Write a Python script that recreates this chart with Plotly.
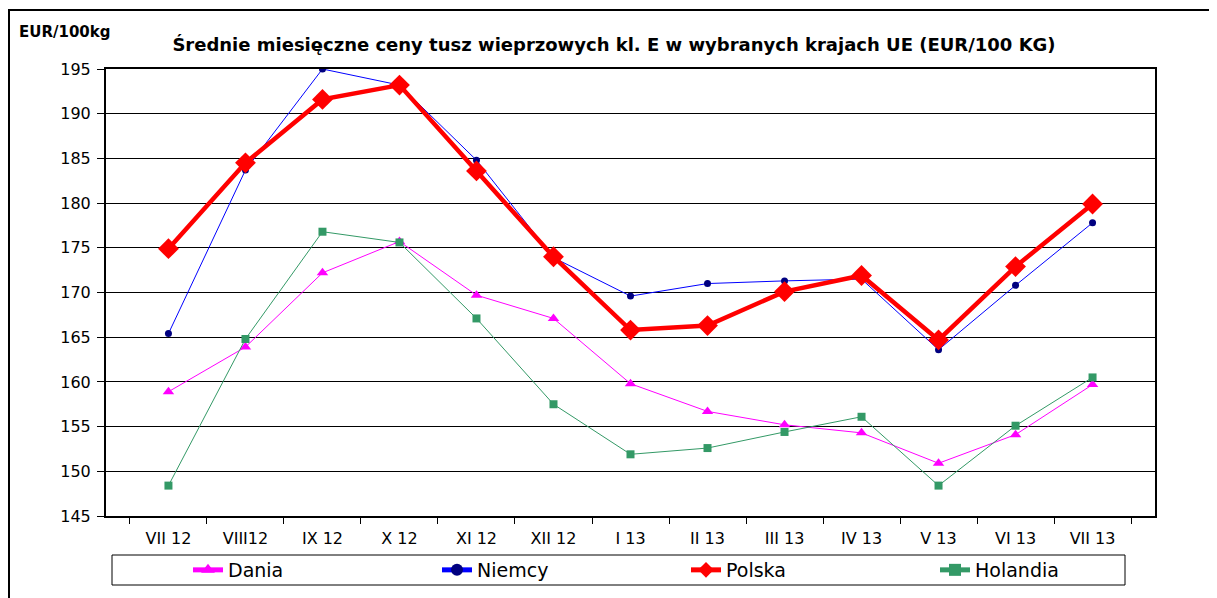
import plotly.graph_objects as go

months = ["VII 12", "VIII12", "IX 12", "X 12", "XI 12", "XII 12", "I 13",
          "II 13", "III 13", "IV 13", "V 13", "VI 13", "VII 13"]
dania = [158.9, 163.9, 172.2, 175.7, 169.7, 167.1, 159.8, 156.7, 155.2, 154.3, 150.9, 154.1, 159.7]
niemcy = [165.4, 183.7, 195.0, 193.2, 184.8, 173.9, 169.6, 171.0, 171.3, 171.5, 163.6, 170.8, 177.8]
polska = [174.9, 184.5, 191.6, 193.2, 183.6, 174.0, 165.8, 166.3, 170.1, 171.9, 164.7, 172.9, 179.9]
holandia = [148.4, 164.8, 176.8, 175.6, 167.1, 157.5, 151.9, 152.6, 154.4, 156.1, 148.4, 155.1, 160.5]
y_ticks = [145, 150, 155, 160, 165, 170, 175, 180, 185, 190, 195]

FONT = "DejaVu Sans, Liberation Sans, Arial, sans-serif"

fig = go.Figure()
fig.add_trace(go.Scatter(x=months, y=dania, name="Dania", mode="lines+markers",
                         line=dict(color="#FF00FF", width=1),
                         marker=dict(symbol="triangle-up", size=10, color="#FF00FF")))
fig.add_trace(go.Scatter(x=months, y=niemcy, name="Niemcy", mode="lines+markers",
                         line=dict(color="#0000FF", width=1),
                         marker=dict(symbol="circle", size=7, color="#000080")))
fig.add_trace(go.Scatter(x=months, y=polska, name="Polska", mode="lines+markers",
                         line=dict(color="#FF0000", width=4.5),
                         marker=dict(symbol="diamond", size=16, color="#FF0000")))
fig.add_trace(go.Scatter(x=months, y=holandia, name="Holandia", mode="lines+markers",
                         line=dict(color="#339966", width=1),
                         marker=dict(symbol="square", size=8, color="#339966")))

# page body has an 8px margin -> figure origin sits at screen (8, 8)
OFF = 8
W, H = 1217 - OFF, 598 - OFF
L, T = 106 - OFF, 69 - OFF
pw, ph = 1049, 447
R, B = W - L - pw, H - T - ph

def px(x):  # screen x -> paper x
    return (x - 106) / pw

def py(y):  # screen y -> paper y
    return (516 - y) / ph

fig.update_layout(
    width=W, height=H,
    margin=dict(l=L, r=R, t=T, b=B, autoexpand=False),
    paper_bgcolor="white", plot_bgcolor="white",
    font=dict(family=FONT, color="black", size=16),
    title=dict(text="<b>Średnie miesięczne ceny tusz wieprzowych kl. E w wybranych krajach UE (EUR/100 KG)</b>",
               x=(614 - OFF) / W, xanchor="center", y=1 - (45 - OFF) / H, yanchor="middle",
               font=dict(size=18, family=FONT, color="black")),
    xaxis=dict(type="category", tickson="boundaries", ticks="outside", ticklen=6,
               tickcolor="black", showline=True, linecolor="black", linewidth=2,
               mirror=True, showgrid=False, tickfont=dict(size=16, family=FONT),
               ticklabelstandoff=7),
    yaxis=dict(range=[145, 195], tickvals=y_ticks, ticks="outside", ticklen=7,
               tickcolor="black", showline=True, linecolor="black", linewidth=2,
               mirror=True, showgrid=True, gridcolor="black", gridwidth=1,
               zeroline=False, tickfont=dict(size=16, family=FONT),
               ticklabelstandoff=3),
    showlegend=True,
    legend=dict(orientation="h", x=px(188), xanchor="left", y=py(570), yanchor="middle",
                entrywidth=204, entrywidthmode="pixels", borderwidth=0,
                bgcolor="rgba(0,0,0,0)", font=dict(size=19, family=FONT),
                itemsizing="constant"),
    shapes=[
        dict(type="rect", xref="paper", yref="paper",
             x0=px(112), x1=px(1125), y0=py(585), y1=py(555),
             line=dict(color="black", width=1)),
        dict(type="rect", xref="paper", yref="paper",
             x0=px(9), x1=px(1260), y0=py(640), y1=py(10),
             line=dict(color="black", width=2)),
    ],
    annotations=[
        dict(text="<b>EUR/100kg</b>", xref="paper", yref="paper", x=px(17), xanchor="left",
             y=py(32), yanchor="middle", showarrow=False,
             font=dict(size=15, family=FONT, color="black")),
    ],
)

fig.write_html("out.html")
